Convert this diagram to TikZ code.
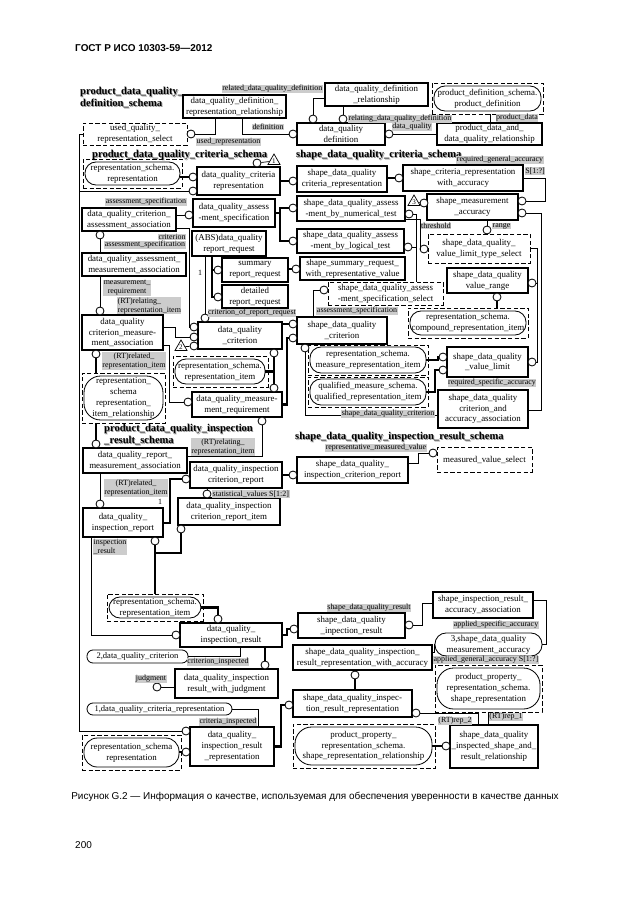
\documentclass[tikz,border=0pt]{standalone}
\usepackage{fontspec}
\setmainfont{Liberation Serif}
\newfontfamily\headfont{Liberation Sans}
\usetikzlibrary{shapes.geometric}

\tikzset{
  span/.style n args={4}{at={({(#1+#3)/2},{(#2+#4)/2})}, minimum width={(#3-#1)*0.3mm}, minimum height={(#4-#2)*0.3mm}},
  ent/.style={draw, line width=0.95pt, inner sep=0pt, align=center, font=\fontsize{7.6}{9.2}\selectfont},
  selbox/.style={draw, line width=0.8pt, dash pattern=on 1.3mm off 0.7mm, inner sep=0pt, align=center, font=\fontsize{7.6}{9.2}\selectfont},
  stad/.style={draw, line width=0.7pt, rounded corners=3.3mm, inner sep=0pt, align=center, font=\fontsize{7.6}{9.2}\selectfont},
  attr/.style={fill=black!20, inner sep=0.4pt, align=center, font=\fontsize{6.8}{7.6}\selectfont},
  ring/.style={circle, draw, fill=white, line width=0.7pt, minimum size=2.4mm, inner sep=0pt},
  lnk/.style={line width=0.6pt},
  sub/.style={line width=2pt},
  tri/.style={regular polygon, regular polygon sides=3, draw, line width=0.6pt, fill=white, minimum size=4.2mm, inner sep=0pt, font=\fontsize{6}{6}\selectfont},
  ttl/.style={inner sep=0pt, anchor=west, font=\fontsize{9}{10}\selectfont\bfseries},
  page/.style={inner sep=0pt, font=\headfont\fontsize{8.5}{10}\selectfont}
}

\begin{document}
\begin{tikzpicture}[x=0.3mm, y=-0.3mm]
  \useasboundingbox (0,0) rectangle (630,913);
  \fill[white] (0,0) rectangle (630,913);

  % page header, caption and number
  \node[page, anchor=west, font=\headfont\fontsize{8.5}{10}\selectfont\bfseries] (hdr) at (75,48) {ГОСТ Р ИСО 10303-59—2012};
  \node[page] (cap) at (315,797) {Рисунок G.2 — Информация о качестве, используемая для обеспечения уверенности в качестве данных};
  \node[page, anchor=west] (pgno) at (75,845) {200};

  % schema titles, drawn twice for the grey shadow
  \foreach \sh/\col in {0.9/black!40, 0/black} {
    \begin{scope}[shift={(\sh,\sh)}, text=\col]
      \node[ttl, anchor=north west, align=left] (t1) at (80,87) {product\_data\_quality\_\\definition\_schema};
      \node[ttl] (t2) at (92,155) {product\_data\_quality\_criteria\_schema};
      \node[ttl] (t2b) at (296,155) {shape\_data\_quality\_criteria\_schema};
      \node[ttl, anchor=north west, align=left] (t3) at (104,424) {product\_data\_quality\_inspection\\\_result\_schema};
      \node[ttl] (t4) at (295,437) {shape\_data\_quality\_inspection\_result\_schema};
    \end{scope}
  }

  % product_data_quality_definition_schema
  \node[ent, span={183}{95}{286}{118}] (dqdrr) {data\_quality\_definition\_\\representation\_relationship};
  \node[ent, span={325}{83}{428}{106}] (dqdr) {data\_quality\_definition\\\_relationship};
  \node[selbox, span={432}{83}{543}{114}] (pdsO) {};
  \node[stad, span={434}{86}{541}{111}] (pds) {product\_definition\_schema.\\product\_definition};
  \node[selbox, span={83}{123}{187}{145}] (uqrs) {used\_quality\_\\representation\_select};
  \node[ent, span={297}{123}{385}{145}] (dqd) {data\_quality\\definition};
  \node[ent, span={437}{123}{542}{145}] (pdadq) {product\_data\_and\_\\data\_quality\_relationship};

  % product_data_quality_criteria_schema
  \node[selbox, span={83}{159}{182}{188}] (rsrO) {};
  \node[stad, span={85}{162}{180}{185}] (rsr) {representation\_schema.\\representation};
  \node[ent, span={197}{167}{280}{195}] (dqcr) {data\_quality\_criteria\\representation};
  \node[ent, span={82}{208}{176}{231}] (dqcaa) {data\_quality\_criterion\_\\assessment\_association};
  \node[ent, span={193}{199}{275}{227}] (dqas) {data\_quality\_assess\\-ment\_specification};
  \node[ent, span={192}{231}{266}{256}] (dqrr) {(ABS)data\_quality\\report\_request};
  \node[ent, span={222}{258}{288}{282}] (srr) {summary\\report\_request};
  \node[ent, span={222}{285}{288}{308}] (drr) {detailed\\report\_request};
  \node[ent, span={82}{253}{186}{276}] (dqama) {data\_quality\_assessment\_\\measurement\_association};
  \node[ent, span={82}{315}{163}{350}] (dqcma) {data\_quality\\criterion\_measure-\\ment\_association};
  \node[ent, span={198}{322}{282}{349}] (dqc) {data\_quality\\\_criterion};
  \node[selbox, span={173}{356}{268}{387}] (rsriO) {};
  \node[stad, span={175}{359}{265}{384}] (rsri) {representation\_schema.\\representation\_item};
  \node[selbox, span={82}{373}{165}{423}] (rsrirO) {};
  \node[stad, rounded corners=5mm, span={84}{376}{163}{420}] (rsrir) {representation\_\\schema\\representation\_\\item\_relationship};
  \node[ent, span={192}{392}{282}{417}] (dqmr) {data\_quality\_measure-\\ment\_requirement};

  % shape_data_quality_criteria_schema
  \node[ent, span={297}{166}{387}{192}] (sdqcr) {shape\_data\_quality\\criteria\_representation};
  \node[ent, span={403}{165}{523}{191}] (scra) {shape\_criteria\_representation\\with\_accuracy};
  \node[ent, span={297}{196}{405}{221}] (sdqan) {shape\_data\_quality\_assess\\-ment\_by\_numerical\_test};
  \node[ent, span={427}{194}{518}{220}] (sma) {shape\_measurement\\\_accuracy};
  \node[ent, span={297}{229}{404}{253}] (sdqal) {shape\_data\_quality\_assess\\-ment\_by\_logical\_test};
  \node[selbox, span={428}{234}{530}{263}] (vlts) {shape\_data\_quality\_\\value\_limit\_type\_select};
  \node[ent, span={300}{257}{405}{280}] (ssr) {shape\_summary\_request\_\\with\_representative\_value};
  \node[ent, span={447}{268}{528}{293}] (vr) {shape\_data\_quality\\value\_range};
  \node[selbox, span={328}{282}{443}{305}] (sdqass) {shape\_data\_quality\_assess\\-ment\_specification\_select};
  \node[selbox, span={408}{308}{528}{338}] (compoundO) {};
  \node[stad, span={410}{311}{526}{335}] (compound) {representation\_schema.\\compound\_representation\_item};
  \node[ent, span={297}{317}{387}{344}] (sdqc) {shape\_data\_quality\\\_criterion};
  \node[selbox, span={308}{345}{428}{375}] (mriO) {};
  \node[stad, span={310}{347}{426}{373}] (mri) {representation\_schema.\\measure\_representation\_item};
  \node[selbox, span={308}{377}{428}{407}] (qriO) {};
  \node[stad, span={310}{379}{426}{405}] (qri) {qualified\_measure\_schema.\\qualified\_representation\_item};
  \node[ent, span={447}{347}{528}{377}] (vl) {shape\_data\_quality\\\_value\_limit};
  \node[ent, span={438}{390}{528}{428}] (sdqcaa) {shape\_data\_quality\\criterion\_and\\accuracy\_association};

  % product_data_quality_inspection_result_schema
  \node[ent, span={83}{448}{187}{473}] (dqrma) {data\_quality\_report\_\\measurement\_association};
  \node[ent, span={190}{462}{282}{488}] (dqicr) {data\_quality\_inspection\\criterion\_report};
  \node[ent, span={178}{498}{280}{525}] (dqicri) {data\_quality\_inspection\\criterion\_report\_item};
  \node[ent, span={83}{508}{163}{537}] (dqir) {data\_quality\_\\inspection\_report};
  \node[selbox, span={107}{594}{203}{621}] (rsri2O) {};
  \node[stad, span={109}{597}{201}{618}] (rsri2) {representation\_schema.\\representation\_item};
  \node[ent, span={180}{623}{282}{647}] (dqires) {data\_quality\_\\inspection\_result};
  \node[stad, rounded corners=1.8mm, font=\fontsize{7.3}{9}\selectfont, span={87}{650}{188}{663}] (c2) {2,data\_quality\_criterion};
  \node[ent, span={175}{669}{278}{698}] (dqirwj) {data\_quality\_inspection\\result\_with\_judgment};
  \node[stad, rounded corners=1.8mm, font=\fontsize{7.3}{9}\selectfont, span={87}{703}{232}{715}] (c1) {1,data\_quality\_criteria\_representation};
  \node[ent, span={190}{727}{274}{766}] (dqirr) {data\_quality\_\\inspection\_result\\\_representation};
  \node[selbox, span={82}{735}{181}{770}] (rsr2O) {};
  \node[stad, rounded corners=4mm, span={84}{738}{179}{767}] (rsr2) {representation\_schema\\representation};

  % shape_data_quality_inspection_result_schema
  \node[ent, span={297}{457}{408}{483}] (sdqicr) {shape\_data\_quality\_\\inspection\_criterion\_report};
  \node[selbox, span={437}{447}{532}{472}] (mvs) {measured\_value\_select};
  \node[ent, span={433}{592}{533}{618}] (sirai) {shape\_inspection\_result\_\\accuracy\_association};
  \node[ent, span={298}{613}{405}{638}] (sdqir) {shape\_data\_quality\\\_inpection\_result};
  \node[stad, span={435}{633}{542}{656}] (c3) {3,shape\_data\_quality\\measurement\_accuracy};
  \node[ent, span={293}{645}{432}{670}] (sdqirra) {shape\_data\_quality\_inspection\_\\result\_representation\_with\_accuracy};
  \node[selbox, span={435}{665}{542}{712}] (pprsrO) {};
  \node[stad, rounded corners=5mm, span={437}{668}{540}{709}] (pprsr) {product\_property\_\\representation\_schema.\\shape\_representation};
  \node[ent, span={293}{690}{412}{717}] (sdqirr) {shape\_data\_quality\_inspec-\\tion\_result\_representation};
  \node[selbox, span={293}{724}{435}{768}] (pprsrrO) {};
  \node[stad, rounded corners=5mm, span={295}{727}{432}{765}] (pprsrr) {product\_property\_\\representation\_schema.\\shape\_representation\_relationship};
  \node[ent, span={450}{725}{538}{768}] (sdqisr) {shape\_data\_quality\\\_inspected\_shape\_and\_\\result\_relationship};

  % page references
  \node[tri] (tri1) at (274,161) {1};
  \node[tri] (tri2) at (181,347) {2};
  \node[tri] (tri3) at (414,202) {3};

  % attribute rings
  \foreach \n/\x/\y in {r1/313/119, r2/343/119, r3/293/134, r4/191/134, r5/389/134,
      r6/257/163, r7/193/177, r8/193/191, r9/293/181, r10/399/178,
      r11/424/203, r12/522/201, r13/522/213, r14/189/215,
      r15/293/208, r16/293/241, r17/409/214, r18/408/247, r19/424/249, r20/487/230,
      r21/100/235, r22/218/270, r23/218/297, r24/296/269, r25/532/283, r26/497/297, r27/324/290,
      r28/205/318, r29/194/327, r30/194/337, r31/194/346, r32/100/311,
      r33/293/324, r34/293/338, r35/305/348, r36/532/362, r37/443/357, r38/443/370,
      r39/274/353, r40/274/388, r41/96/354, r42/188/402, r43/262/421, r44/96/444,
      r45/100/504, r46/186/479, r47/207/494, r48/293/475, r49/433/453,
      r50/155/541, r51/181/529, r52/218/619, r53/176/635, r54/294/629, r55/409/625,
      r56/265/665, r57/157/687, r58/186/731, r59/186/752, r60/289/705, r61/355/675,
      r62/416/713, r63/446/746}
    \node[ring] (\n) at (\x,\y) {};

  % definition schema links
  \draw[lnk] (dqdr.west |- 0,98) -| (r1);
  \draw[lnk] (dqdr.south -| r2) -- (r2);
  \draw[lnk] (dqdrr.south -| 242,0) |- (r3);
  \draw[lnk] (dqdrr.south -| 215,0) |- (r4);
  \draw[lnk] (pdadq.west |- r5) -- (r5);
  \draw[lnk] (pdadq.north -| 490,0) -- (pdsO.south -| 490,0);

  % select spine on the left
  \coordinate (spine) at (79,0);
  \draw[lnk] (uqrs.west) -- (uqrs.west -| spine) |- (r58);
  \draw[lnk] (r8 -| spine) -- (r8);

  % criteria schemas
  \draw[sub] (rsr.east |- r7) -- (r7);
  \draw[lnk] (r6) -- (tri1);
  \draw[sub] (dqcr.east |- r9) -- (r9);
  \draw[sub] (sdqcr.east |- r10) -- (r10);
  \draw[lnk] (scra.east) -- (scra.east -| 545,0) |- (r12);
  \draw[lnk] (tri3) -- (r11);
  \draw[lnk] (sdqcaa.east |- 0,410) -- (541,410) |- (r13);
  \draw[sub] (dqas.east) -- (dqas.east -| 280,0);
  \draw[sub] (r15) -- (r15 -| 280,0) |- (r16);
  \draw[lnk] (dqcaa.east |- r14) -- (r14);
  \draw[lnk] (dqcaa.east |- 0,228) -- (189,228) |- (r29);
  \draw[lnk] (dqama.north -| r21) -- (r21);
  \draw[sub] (dqrr.south -| 212,0) |- (r23);
  \draw[sub] (r22 -| 212,0) -- (r22);
  \draw[sub] (srr.east |- r24) -- (r24);
  \draw[lnk] (dqrr.south -| r28) -- (r28);
  \draw[lnk] (dqcma.east |- 0,327) -- (175,327) |- (r30);
  \draw[lnk] (tri2) -- (r31);
  \draw[lnk] (dqama.south -| r32) -- (r32);
  \draw[sub] (rsrirO.north -| r41) -- (r41);
  \draw[lnk] (dqcma.east |- 0,345) -- (169,345) |- (r42);
  \draw[sub] (rsri.east) -- (rsri.east -| r39) -- (r39);
  \draw[sub] (rsri.east -| r39) -- (r40);
  \draw[sub] (dqc.east |- r33) -- (r33);
  \draw[sub] (dqmr.east) -- (dqmr.east -| 287,0) |- (r34);
  \draw[lnk] (sdqc.north -| 313,0) |- (r27);
  \draw[lnk] (sdqcaa.west |- 0,415) -| (r35);
  \draw[lnk] (vlts.east) -- (vlts.east -| 537,0) |- (r36);
  \draw[lnk] (r25) -- (r25 -| 537,0);
  \draw[lnk] (sma.south -| r20) -- (r20);
  \draw[lnk] (sdqan.east |- 0,219) -- (420,219) |- (r19);
  \draw[lnk] (sdqass.north -| 416,0) |- (r17);
  \draw[lnk] (r18) -- (r18 -| 416,0);
  \draw[sub] (compoundO.north -| r26) -- (r26);
  \draw[sub] (mri.east) -- (mri.east -| 438,0) |- (r37);
  \draw[sub] (qri.east) -- (qri.east -| 435,0) |- (r38);

  % inspection result schemas
  \draw[lnk] (dqrma.east |- 0,456) -| (r43);
  \draw[sub] (rsrirO.south -| r44) -- (r44);
  \draw[lnk] (dqrma.south -| r45) -- (r45);
  \draw[sub] (dqir.east |- 0,523) -- (170,523) |- (r46);
  \draw[lnk] (dqicr.south -| r47) -- (r47);
  \draw[sub] (dqicr.east |- r48) -- (r48);
  \draw[lnk] (sdqicr.east |- 0,463) -- (418,463) |- (r49);
  \draw[sub] (rsri2O.north -| r50) -- (r50);
  \draw[sub] (r50 |- 0,553) -| (r51);
  \draw[sub] (rsri2.east) -| (r52);
  \draw[lnk] (dqir.south -| 91,0) |- (r53);
  \draw[sub] (dqires.east |- 0,635) -- (287,635) |- (r54);
  \draw[lnk] (sirai.west |- 0,603) -- (422,603) |- (r55);
  \draw[lnk] (sirai.east |- 0,600) -- (546,600) |- (c3.east);
  \draw[lnk] (sdqirra.east |- 0,652) -- (434,652) |- (c3.west);
  \draw[sub] (sdqirr.north -| r61) -- (r61);
  \draw[sub] (dqirr.east) -- (dqirr.east -| 281,0) |- (r60);
  \draw[lnk] (sdqisr.north -| 478,0) |- (r62);
  \draw[lnk] (sdqisr.north -| 488,0) -- (pprsrO.south -| 488,0);
  \draw[sub] (pprsrr.east) -- (r63);
  \draw[lnk] (dqires.south -| 240,0) |- (c2.east);
  \draw[sub] (dqires.south -| r56) -- (r56);
  \draw[lnk] (r57) -- (dqirwj.west |- r57);
  \draw[lnk] (c1.east) -| (dqirr.north -| 258,0);
  \draw[sub] (rsr2.east |- r59) -- (r59);

  % attribute labels
  \node[attr, anchor=east] (lrel) at (323,89) {related\_data\_quality\_definition};
  \node[attr, anchor=west] (lrelg) at (348,119) {relating\_data\_quality\_definition};
  \node[attr] (ldef) at (268,127) {definition};
  \node[attr, anchor=west] (luse) at (196,142) {used\_representation};
  \node[attr] (ldq) at (412,127) {data\_quality};
  \node[attr] (lpd) at (517,118) {product\_data};
  \node[attr] (lrga) at (500,160) {required\_general\_accuracy};
  \node[attr] (lrgas) at (535,171) {S[1:?]};
  \node[attr] (las1) at (146,202) {assessment\_specification};
  \node[attr] (lcrit) at (172,237) {criterion};
  \node[attr] (las2) at (145,245) {assessment\_specification};
  \node[attr] (lthr) at (436,226) {threshold};
  \node[attr, anchor=west] (lrng) at (492,226) {range};
  \node[font=\fontsize{6.8}{7.6}\selectfont] (one1) at (200,273) {1};
  \node[attr] (lcorr) at (252,313) {criterion\_of\_report\_request};
  \node[attr] (las3) at (357,311) {assessment\_specification};
  \node[attr] (lmreq) at (127,288) {measurement\_\\requirement};
  \node[attr, anchor=north west, align=left] (lrel1) at (117,297) {(RT)relating\_\\representation\_item};
  \node[attr] (lrel2) at (134,361) {(RT)related\_\\representation\_item};
  \node[attr] (lsdqc) at (388,414) {shape\_data\_quality\_criterion};
  \node[attr] (lrsa) at (492,383) {required\_specific\_accuracy};
  \node[attr] (lrel3) at (223,447) {(RT)relating\_\\representation\_item};
  \node[attr] (lrel4) at (136,488) {(RT)related\_\\representation\_item};
  \node[font=\fontsize{6.8}{7.6}\selectfont] (one2) at (160,502) {1};
  \node[attr, anchor=west] (lstat) at (212,494) {statistical\_values S[1:2]};
  \node[attr, anchor=north west, align=left] (linsp) at (93,539) {inspection\\\_result};
  \node[attr] (lrmv) at (376,448) {representative\_measured\_value};
  \node[attr] (lsdqr) at (369,608) {shape\_data\_quality\_result};
  \node[attr] (lasa) at (496,625) {applied\_specific\_accuracy};
  \node[attr] (laga) at (486,660) {applied\_general\_accuracy S[1:?]};
  \node[attr] (lcins) at (218,662) {criterion\_inspected};
  \node[attr] (ljudg) at (151,679) {judgment};
  \node[attr] (lcrins) at (228,722) {criteria\_inspected};
  \node[attr] (lrep2) at (455,721) {(RT)rep\_2};
  \node[attr] (lrep1) at (506,717) {(RT)rep\_1};
\end{tikzpicture}
\end{document}
